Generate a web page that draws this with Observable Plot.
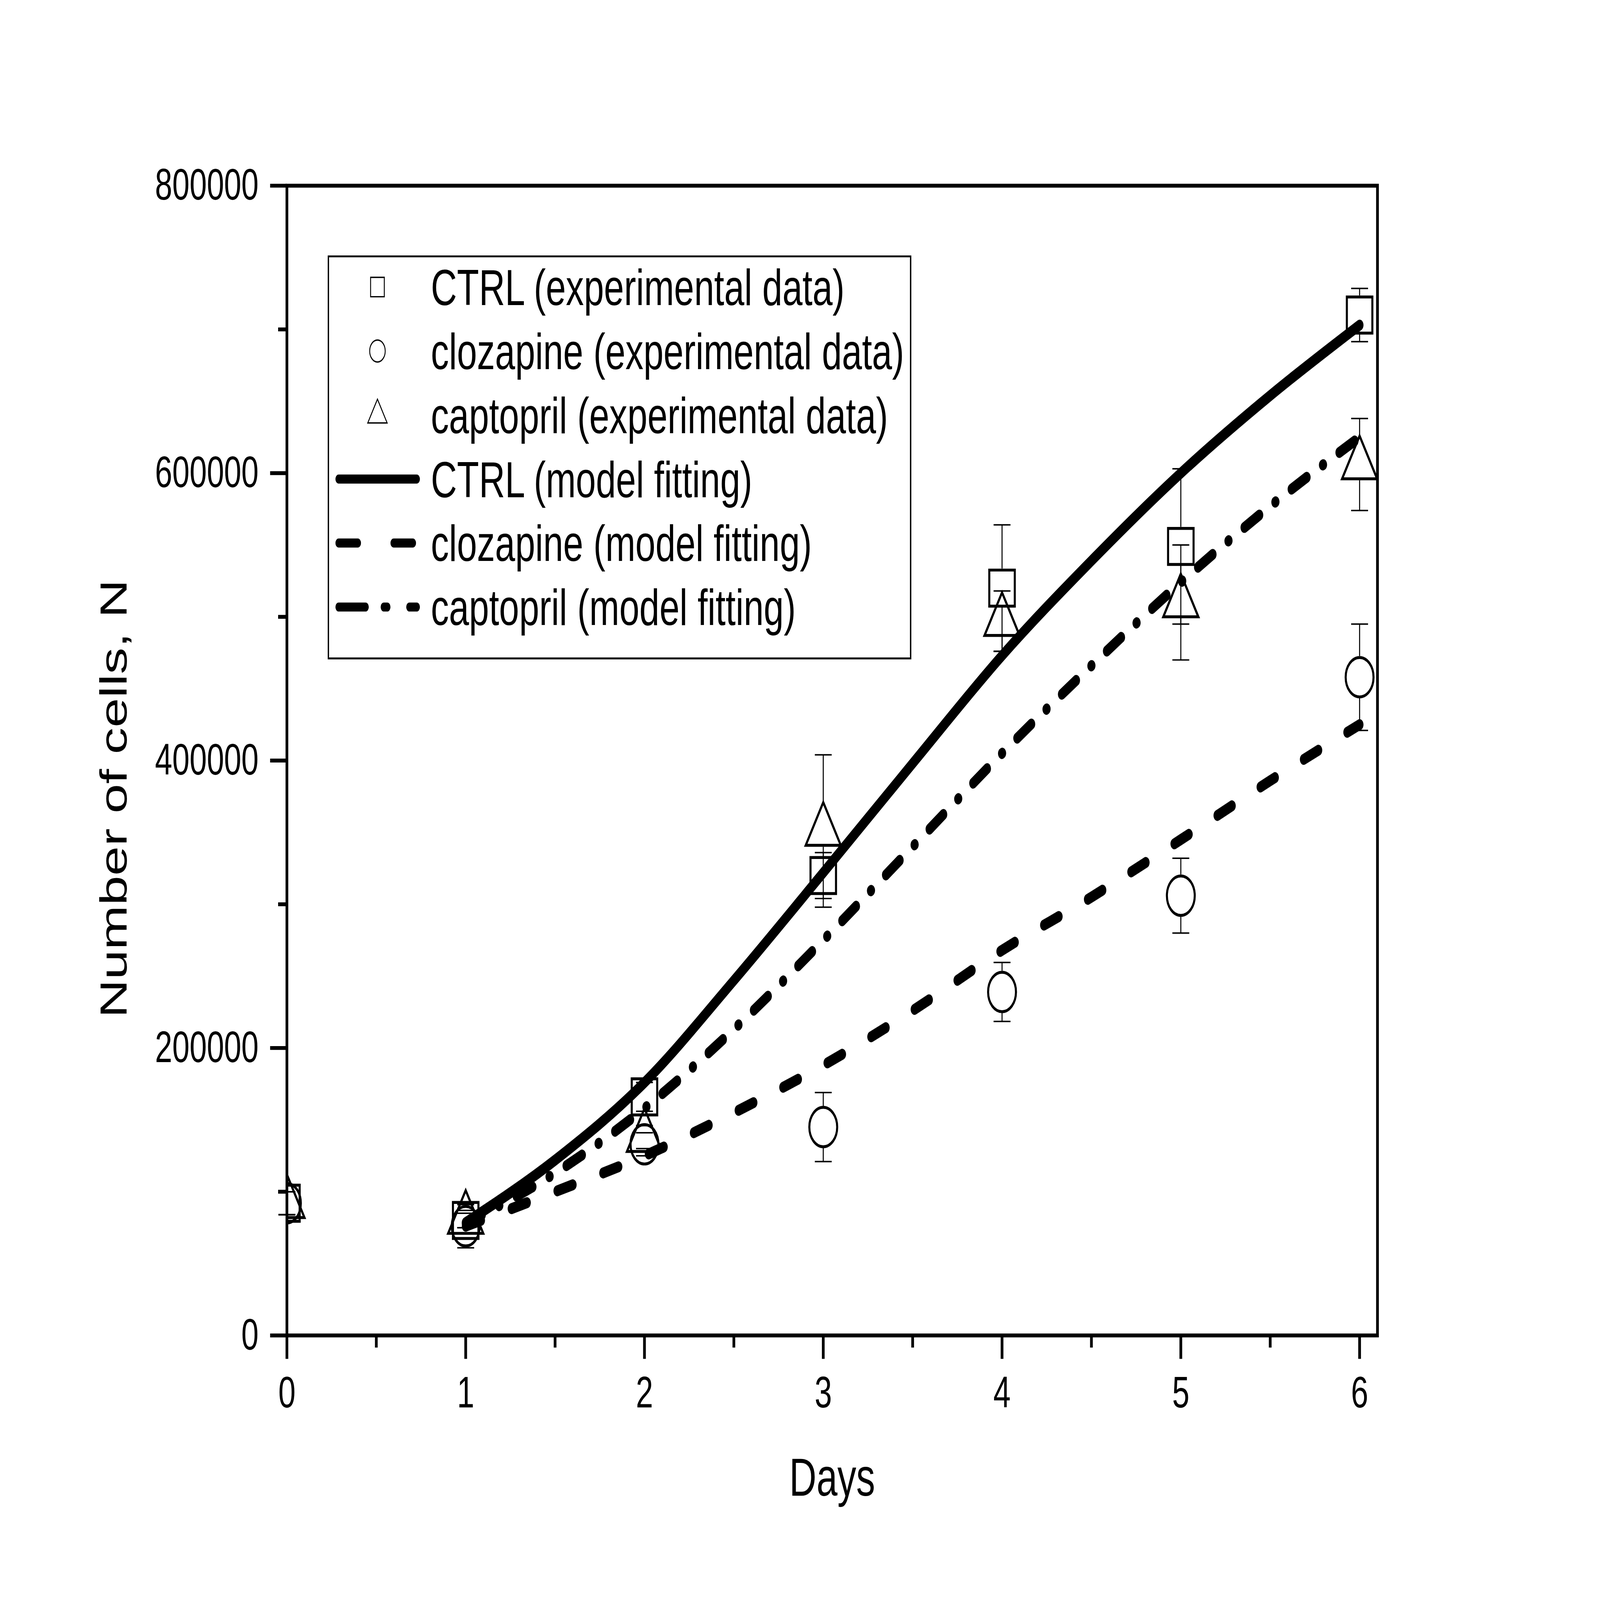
<!DOCTYPE html>
<html>
<head>
<meta charset="utf-8">
<script src="https://cdn.jsdelivr.net/npm/d3@7"></script>
<script src="https://cdn.jsdelivr.net/npm/@observablehq/plot@0.6"></script>
<style>
  html, body { margin: 0; padding: 0; background: #fff; overflow: hidden; }
  #wrap { position: relative; width: 7007px; height: 4950px; background: #fff; transform-origin: 0 0; }
  #legend { position: absolute; left: 1435px; top: 790px; }
  svg text { font-family: "Liberation Sans", Arial, sans-serif; }
</style>
</head>
<body>
<div id="wrap"></div>
<script>
// ---------- data ----------
const days = [0, 1, 2, 3, 4, 5, 6];

const ctrl     = [92000, 80000, 166000, 320000, 520000, 549000, 710000];
const ctrlErr  = [8000, 5000, 10000, 16000, 44000, 54000, 18500];

const cloz     = [92000, 76000, 133000, 145000, 239000, 306000, 458000];
const clozErr  = [8000, 15000, 8000, 24000, 20500, 26000, 37000];

const capt     = [92000, 81000, 138000, 351000, 497000, 510000, 606000];
const captErr  = [8000, 6000, 8000, 53000, 21000, 40000, 32000];

const fitDays  = [1, 1.5, 2, 2.5, 3, 3.5, 4, 4.5, 5, 5.5, 6];
const ctrlFit  = [78500, 122000, 176000, 247000, 322000, 398000, 473000, 539000, 600000, 654000, 703000];
const clozFit  = [76000, 100000, 125000, 155000, 188000, 226000, 268000, 305000, 345000, 386000, 425000];
const captFit  = [78000, 113000, 158000, 213000, 275000, 340000, 405000, 466000, 524000, 577000, 625000];

const xMajor = [0, 1, 2, 3, 4, 5, 6];
const xMinor = [0.5, 1.5, 2.5, 3.5, 4.5, 5.5];
const yMajor = [0, 200000, 400000, 600000, 800000];
const yMinor = [100000, 300000, 500000, 700000];

const legendLabels = [
  "CTRL (experimental data)",
  "clozapine (experimental data)",
  "captopril (experimental data)",
  "CTRL (model fitting)",
  "clozapine (model fitting)",
  "captopril (model fitting)"
];

// ---------- layout ----------
const W = 7007, H = 4950;
const mL = 1256, mR = 975, mT = 574, mB = 819;
const xDomain = [0, 6.1], yDomain = [0, 800000];
const pxPerUnit = (H - mT - mB) / (yDomain[1] - yDomain[0]);

const series = [
  {symbol: "square",   r: 63, vals: ctrl, errs: ctrlErr, hTop: 60, hBot: 60},
  {symbol: "circle",   r: 61, vals: cloz, errs: clozErr, hTop: 65, hBot: 65},
  {symbol: "triangle", r: 57, vals: capt, errs: captErr, hTop: 93, hBot: 49}
];

const capSymbol = {
  draw(context) { context.moveTo(-37, 0); context.lineTo(37, 0); }
};

const marks = [];
for (const s of series) {
  const rows = days.map((d, i) => ({day: d, v: s.vals[i], e: s.errs[i]}));
  marks.push(
    Plot.ruleX(rows.filter(r => r.e * pxPerUnit > s.hTop + 1), {
      x: "day", y1: r => r.v + r.e, y2: "v", insetBottom: s.hTop,
      stroke: "black", strokeWidth: 4.5
    }),
    Plot.ruleX(rows.filter(r => r.e * pxPerUnit > s.hBot + 1), {
      x: "day", y1: "v", y2: r => r.v - r.e, insetTop: s.hBot,
      stroke: "black", strokeWidth: 4.5
    }),
    Plot.dot(rows, {x: "day", y: r => r.v + r.e, symbol: capSymbol, r: 10,
      fill: "none", stroke: "black", strokeWidth: 4.5}),
    Plot.dot(rows, {x: "day", y: r => r.v - r.e, symbol: capSymbol, r: 10,
      fill: "none", stroke: "black", strokeWidth: 4.5}),
    Plot.dot(rows, {x: "day", y: "v", symbol: s.symbol, r: s.r,
      fill: "none", stroke: "black", strokeWidth: 9, clip: true})
  );
}

const fits = [
  {vals: ctrlFit, dash: null},
  {vals: clozFit, dash: "70,138"},
  {vals: captFit, dash: "76,80,2,80"}
];
for (const f of fits) {
  marks.push(Plot.line(fitDays.map((d, i) => ({day: d, v: f.vals[i]})), {
    x: "day", y: "v", stroke: "black", strokeWidth: 34,
    strokeLinecap: "round", strokeLinejoin: "round",
    strokeDasharray: f.dash, curve: "monotone-x"
  }));
}

marks.push(
  Plot.axisX({ticks: xMajor, tickSize: 73, tickPadding: 53, strokeWidth: 12,
    fontSize: 136, tickFormat: d => String(d), label: null}),
  Plot.axisX({ticks: xMinor, tickSize: 38, strokeWidth: 12,
    tickFormat: () => "", label: null}),
  Plot.axisY({ticks: yMajor, tickSize: 73, tickPadding: 51, strokeWidth: 12,
    fontSize: 136, tickFormat: d => String(d), label: null}),
  Plot.axisY({ticks: yMinor, tickSize: 38, strokeWidth: 12,
    tickFormat: () => "", label: null}),
  Plot.frame({stroke: "black", strokeWidth: 12}),
  Plot.text(["Days"], {frameAnchor: "bottom", text: d => d, dy: 496,
    lineAnchor: "bottom", fontSize: 165, fill: "black"}),
  Plot.text(["Number of cells, N"], {frameAnchor: "left", text: d => d,
    rotate: -90, dx: -702, dy: 118, lineAnchor: "bottom", textAnchor: "middle",
    fontSize: 165, fill: "black"})
);

const chart = Plot.plot({
  width: W, height: H,
  marginLeft: mL, marginRight: mR, marginTop: mT, marginBottom: mB,
  x: {domain: xDomain},
  y: {domain: yDomain},
  style: {fontFamily: "Liberation Sans, Arial, sans-serif", fontSize: "136px",
          background: "white", color: "black", overflow: "visible"},
  marks
});
document.getElementById("wrap").appendChild(chart);

// ---------- legend (inside the plot area, top-left) ----------
const lg = d3.select("#wrap").append("svg").attr("id", "legend")
  .attr("width", 2560).attr("height", 1256);
lg.append("rect").attr("x", 3).attr("y", 3).attr("width", 2550).attr("height", 1244)
  .attr("fill", "white").attr("stroke", "black").attr("stroke-width", 6);

const rowCy = i => 98 + 198 * i;
const legSyms = [
  {type: d3.symbolSquare, size: 3600},
  {type: d3.symbolCircle, size: 3632},
  {type: d3.symbolTriangle, size: 3119}
];
legSyms.forEach((s, i) => {
  lg.append("path").attr("d", d3.symbol(s.type, s.size)())
    .attr("transform", `translate(218,${rowCy(i)})`)
    .attr("fill", "none").attr("stroke", "black").attr("stroke-width", 4);
});
const legDash = [null, "84,157", "118,80,15,97"];
legDash.forEach((dash, j) => {
  const i = j + 3;
  const ln = lg.append("line").attr("x1", 48).attr("x2", 390)
    .attr("y1", rowCy(i)).attr("y2", rowCy(i))
    .attr("stroke", "black").attr("stroke-width", 28).attr("stroke-linecap", "round");
  if (dash) ln.attr("stroke-dasharray", dash);
});
legendLabels.forEach((t, i) => {
  lg.append("text").attr("x", 452).attr("y", 154 + 198 * i)
    .attr("font-size", 158).attr("fill", "black").text(t);
});

// the browser window may be smaller than the intended 7007x4950 canvas:
// fit the whole figure to the window so nothing is cut off
const iw = window.innerWidth, ih = window.innerHeight;
if (iw !== W || ih !== H) {
  document.getElementById("wrap").style.transform = `scale(${iw / W}, ${ih / H})`;
}
</script>
</body>
</html>
